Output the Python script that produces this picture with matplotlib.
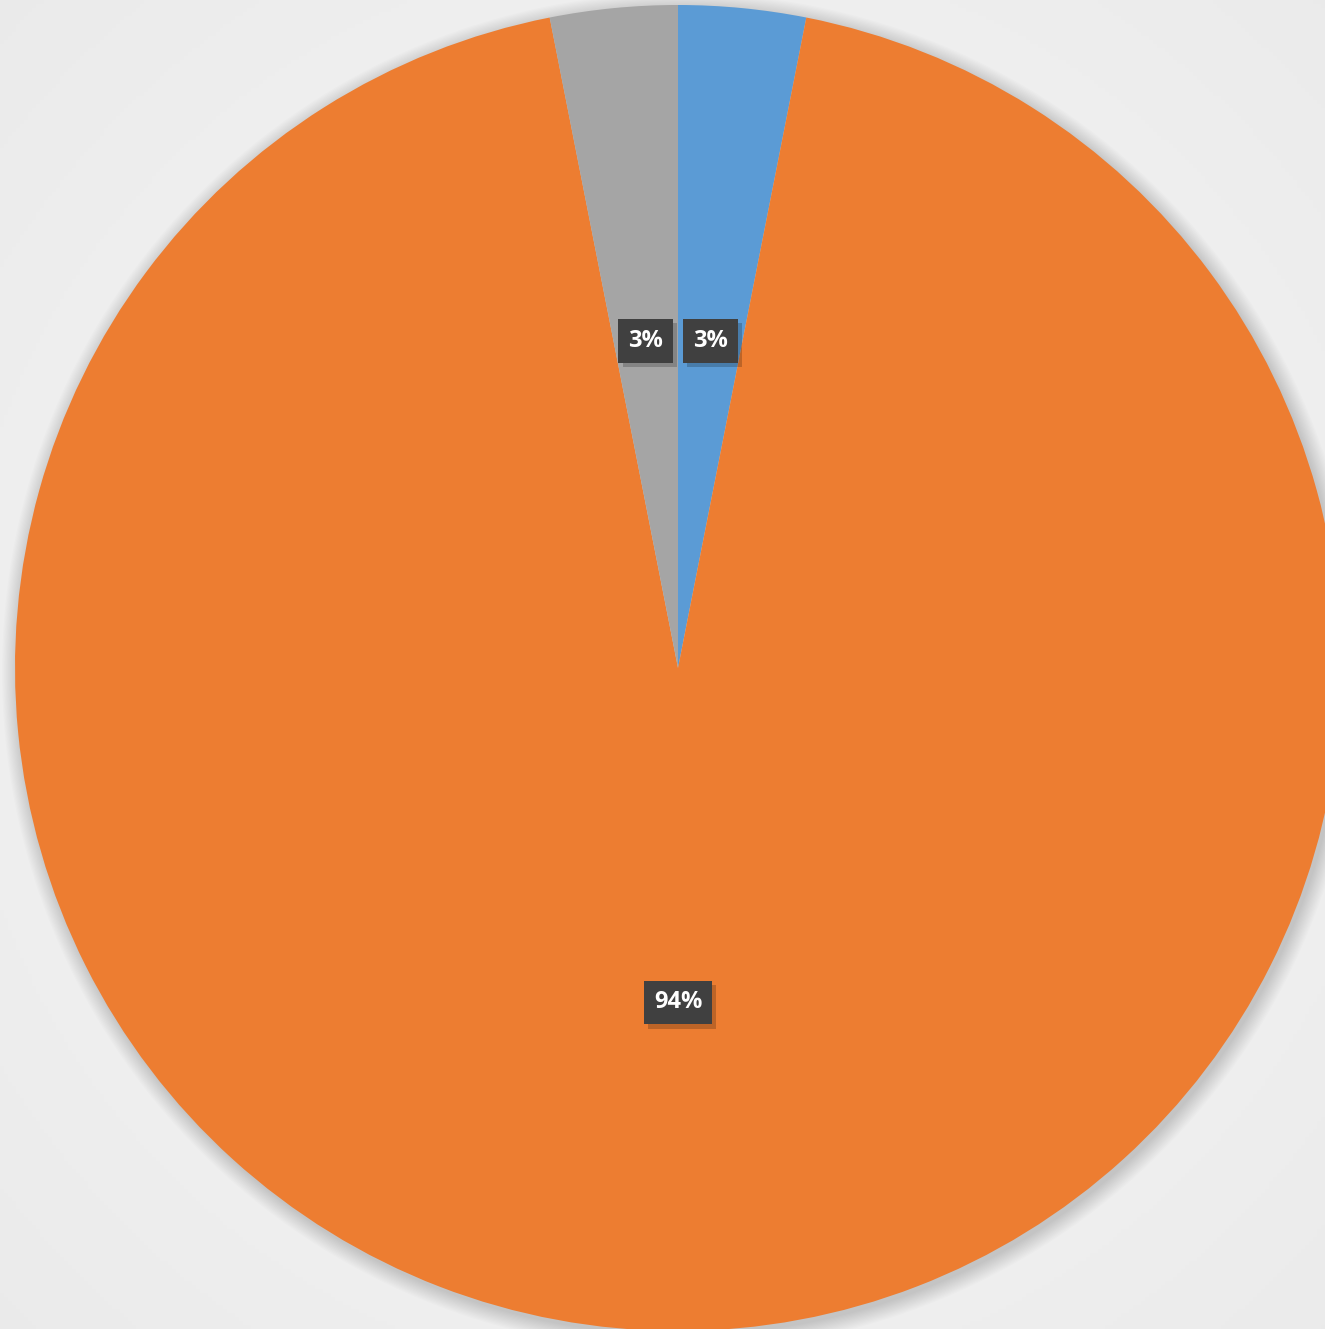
import numpy as np
import matplotlib
matplotlib.use("Agg")
import matplotlib.pyplot as plt
import matplotlib.patheffects as pe
from matplotlib.patches import Circle

categories = ["A", "B", "C"]
values = [3.1, 93.8, 3.1]
labels_pct = ["3%", "94%", "3%"]
colors = ["#5B9BD5", "#ED7D31", "#A5A5A5"]

W, H = 1325, 1329
fig = plt.figure(figsize=(W / 100, H / 100), dpi=100)
ax = fig.add_axes([0, 0, 1, 1])
ax.set_xlim(0, W)
ax.set_ylim(0, H)
ax.set_aspect("equal")
ax.axis("off")

# background radial gradient
yy, xx = np.mgrid[0:H:4, 0:W:4]
d = np.sqrt((xx - 678) ** 2 + (yy - 661) ** 2) / 950.0
g = 0.975 - 0.055 * np.clip(d, 0, 1)
bg = np.dstack([g, g, g])
ax.imshow(bg, extent=[0, W, 0, H], origin="lower", zorder=0, aspect="auto")

cx, cy, r = 678, 661, 663
# soft shadow
for i in range(14):
    ax.add_patch(Circle((cx + 3, cy - 4), r + 16 - i * 1.2, color="black",
                        alpha=0.012, lw=0, zorder=1))

wedges, _ = ax.pie(values, colors=colors, startangle=90, counterclock=False,
                   center=(cx, cy), radius=r, frame=True,
                   wedgeprops=dict(linewidth=0, zorder=2))
ax.set_xlim(0, W)
ax.set_ylim(0, H)
ax.axis("off")

total = sum(values)
start = 90.0
for v, lab in zip(values, labels_pct):
    span = 360.0 * v / total
    mid = np.deg2rad(start - span / 2)
    start -= span
    x = cx + 0.5 * r * np.cos(mid)
    y = cy + 0.5 * r * np.sin(mid) - 3
    t = ax.text(x, y, lab, ha="center", va="center", color="white",
                fontsize=17, fontweight="bold", family="Open Sans", zorder=5,
                bbox=dict(boxstyle="square,pad=0.42", fc="#404040", ec="none"))
    t.get_bbox_patch().set_path_effects([
        pe.SimplePatchShadow(offset=(3, -3), shadow_rgbFace="black", alpha=0.2),
        pe.Normal()])

fig.savefig("out.png", dpi=100)
